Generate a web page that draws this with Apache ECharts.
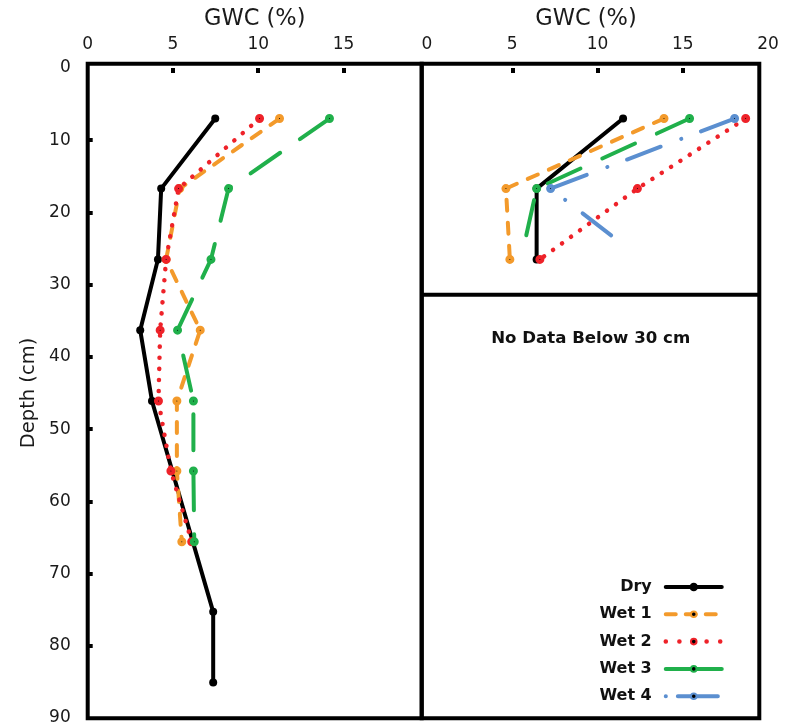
<!DOCTYPE html>
<html><head><meta charset="utf-8">
<script src="https://cdn.jsdelivr.net/npm/echarts@6/dist/echarts.min.js"></script>
<style>html,body{margin:0;padding:0;background:#fff}#c{width:793px;height:728px}</style>
</head><body><div id="c"></div>
<script>
// ---- data ----
const seriesNames = ['Dry', 'Wet 1', 'Wet 2', 'Wet 3', 'Wet 4'];

// left panel (full depth profile)
const depthLeft    = [7, 16.7, 26.5, 36.3, 46.1, 55.8, 65.6];
const depthDryLeft = [7, 16.7, 26.5, 36.3, 46.1, 75.3, 85.1];
const dryLeft  = [7.48, 4.31, 4.12, 3.08, 3.77, 7.36, 7.36];
const wet1Left = [11.25, 5.4, 4.6, 6.6, 5.23, 5.23, 5.52];
const wet2Left = [10.08, 5.33, 4.6, 4.25, 4.15, 4.88, 6.1];
const wet3Left = [14.18, 8.26, 7.23, 5.27, 6.2, 6.2, 6.25];

// right panel (top 30 cm only)
const depthRight     = [7, 16.7, 26.5];
const dryRight       = [11.5, 6.43, 6.43];
const wet1Right      = [13.9, 4.63, 4.86];
const wet2Right      = [18.69, 12.34, 6.62];
const wet3RightDepth = [7, 16.7, 23.4];
const wet3Right      = [15.4, 6.43, 5.8];
const wet4RightDepth = [7, 16.7, 23.8];
const wet4Right      = [18.04, 7.25, 11.15];

const xLabelsLeft  = [0, 5, 10, 15];
const xLabelsRight = [0, 5, 10, 15, 20];
const xTicks       = [5, 10, 15];
const yLabels      = [0, 10, 20, 30, 40, 50, 60, 70, 80, 90];
const yTicks       = [10, 20, 30, 40, 50, 60, 70, 80];

// ---- styles ----
const FONT = 'DejaVu Sans';
const colors = {'Dry': '#000000', 'Wet 1': '#F39A2B', 'Wet 2': '#EE2229', 'Wet 3': '#20B04B', 'Wet 4': '#5B8FD0'};
const dashes = {'Dry': 'solid', 'Wet 1': [11, 12], 'Wet 2': [0.1, 11], 'Wet 3': [36, 24], 'Wet 4': [36, 21, 0.1, 22]};
const legendDashes = {'Dry': 'solid', 'Wet 1': [10, 10], 'Wet 2': [0.1, 13.5], 'Wet 3': 'solid', 'Wet 4': [0.1, 12, 40, 20]};

function makeSeries(name, xs, ds, gi, lastNoSymbol) {
  const data = xs.map((x, i) => {
    const item = {value: [x, ds[i]]};
    if (lastNoSymbol && i === xs.length - 1) item.symbol = 'none';
    return item;
  });
  const isDry = name === 'Dry';
  return {
    type: 'line', name: name, xAxisIndex: gi, yAxisIndex: gi, data: data,
    silent: true, animation: false, symbol: 'circle',
    symbolSize: isDry ? 8 : 5,
    itemStyle: isDry ? {color: '#000'} : {color: '#000', borderColor: colors[name], borderWidth: 4},
    lineStyle: {color: colors[name], width: name === 'Wet 2' ? 4.5 : 4, type: dashes[name], cap: 'round', join: 'round'},
    emphasis: {disabled: true}
  };
}

const series = [
  makeSeries('Dry', dryLeft, depthDryLeft, 0),
  makeSeries('Wet 1', wet1Left, depthLeft, 0),
  makeSeries('Wet 2', wet2Left, depthLeft, 0),
  makeSeries('Wet 3', wet3Left, depthLeft, 0),
  makeSeries('Dry', dryRight, depthRight, 1),
  makeSeries('Wet 1', wet1Right, depthRight, 1),
  makeSeries('Wet 2', wet2Right, depthRight, 1),
  makeSeries('Wet 3', wet3Right, wet3RightDepth, 1, true),
  makeSeries('Wet 4', wet4Right, wet4RightDepth, 1, true)
];

const labelStyle = {fontFamily: FONT, fontSize: 17, color: '#1a1a1a'};

function topAxis(gi, labels, pad) {
  return {
    gridIndex: gi, type: 'value', position: 'top', min: 0, max: 20, interval: 5, offset: 2,
    name: 'GWC (%)', nameLocation: 'middle', nameGap: 35,
    nameTextStyle: {fontFamily: FONT, fontSize: 22.5, color: '#1a1a1a', padding: pad},
    axisLine: {show: false},
    axisTick: {show: true, inside: true, length: 5, lineStyle: {color: '#000', width: 4}, customValues: xTicks},
    axisLabel: Object.assign({}, labelStyle, {margin: 13, customValues: labels}),
    splitLine: {show: false}
  };
}

const legendData = seriesNames.map(n => {
  const d = {name: n, lineStyle: {type: legendDashes[n], width: n === 'Wet 2' ? 4.5 : 4, cap: 'round', color: colors[n]}};
  if (n === 'Dry') d.itemStyle = {borderColor: '#000', borderWidth: 3};
  return d;
});

const option = {
  backgroundColor: '#ffffff',
  animation: false,
  grid: [
    {left: 87.7, top: 68, width: 341, height: 650},
    {left: 427, top: 68, width: 341, height: 650}
  ],
  xAxis: [topAxis(0, xLabelsLeft, [0, 7, 0, 0]), topAxis(1, xLabelsRight, [0, 23, 0, 0])],
  yAxis: [
    {gridIndex: 0, type: 'value', inverse: true, min: 0, max: 90, interval: 10,
     name: 'Depth (cm)', nameLocation: 'middle', nameGap: 49,
     nameTextStyle: {fontFamily: FONT, fontSize: 19.5, color: '#1a1a1a'},
     axisLine: {show: false},
     axisTick: {show: true, inside: true, length: 5, lineStyle: {color: '#000', width: 4}, customValues: yTicks},
     axisLabel: Object.assign({}, labelStyle, {margin: 17, customValues: yLabels}),
     splitLine: {show: false}},
    {gridIndex: 1, type: 'value', inverse: true, min: 0, max: 90, interval: 10, show: false,
     axisLine: {show: false}, axisTick: {show: false}, axisLabel: {show: false}, splitLine: {show: false}}
  ],
  legend: {
    data: legendData, orient: 'vertical', align: 'right', right: 64, top: 574,
    itemWidth: 56, itemHeight: 7, itemGap: 11.3, selectedMode: false,
    textStyle: {fontFamily: FONT, fontWeight: 'bold', fontSize: 16, color: '#111', padding: [0, 9, 0, 0]}
  },
  graphic: [
    {type: 'rect', z: 100, silent: true, shape: {x: 87.7, y: 63.7, width: 334, height: 654.6},
     style: {fill: 'none', stroke: '#000', lineWidth: 4}},
    {type: 'rect', z: 100, silent: true, shape: {x: 421.7, y: 63.7, width: 337.6, height: 654.6},
     style: {fill: 'none', stroke: '#000', lineWidth: 4}},
    {type: 'line', z: 100, silent: true, shape: {x1: 421.7, y1: 294.7, x2: 759.3, y2: 294.7},
     style: {stroke: '#000', lineWidth: 4}},
    {type: 'text', z: 100, silent: true, x: 590.7, y: 338.3,
     style: {text: 'No Data Below 30 cm', fontFamily: FONT, fontWeight: 'bold', fontSize: 16.6, fill: '#111', align: 'center', verticalAlign: 'middle'}}
  ],
  series: series
};

const chart = echarts.init(document.getElementById('c'), null, {renderer: 'canvas'});
chart.setOption(option);
</script>
</body></html>
